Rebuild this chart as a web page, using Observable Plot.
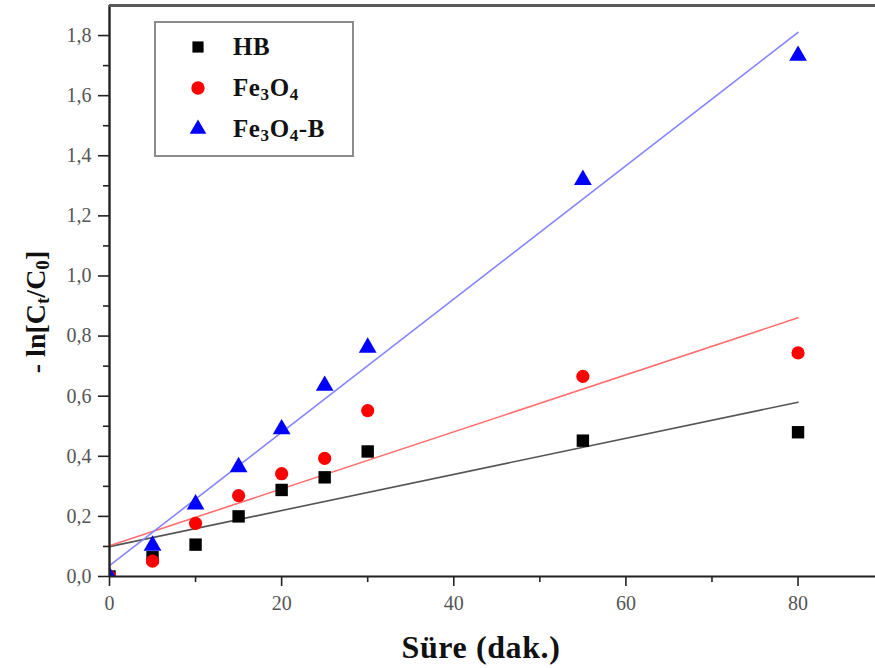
<!DOCTYPE html>
<html>
<head>
<meta charset="utf-8">
<script src="https://cdn.jsdelivr.net/npm/d3@7"></script>
<script src="https://cdn.jsdelivr.net/npm/@observablehq/plot@0.6"></script>
<style>
  body { margin: 0; background: #fff; }
  #wrap { position: relative; width: 875px; height: 668px; overflow: hidden; background: #fff;
          font-family: "Liberation Serif", "Times New Roman", serif; }
  #wrap > svg { position: absolute; left: 0; top: 0; }
  .legend { position: absolute; left: 154px; top: 21px; width: 200px; height: 136px;
            border: 2px solid #8c8c8c; box-sizing: border-box; background: #fff; }
  .legend .row { position: absolute; left: 0; height: 30px; display: flex; align-items: center; }
  .legend .row svg { margin-left: 32px; width: 20px; height: 20px; }
  .legend .row span { margin-left: 25px; font-weight: bold; font-size: 25px; letter-spacing: 0.6px; color: #111; }
  sub { font-size: 0.68em; vertical-align: -0.22em; line-height: 0; }
  .ylab { position: absolute; left: 36px; top: 312px; transform: translate(-50%, -50%) rotate(-90deg);
          white-space: nowrap; font-weight: bold; font-size: 28px; color: #111; }
  .xlab { position: absolute; left: 481px; top: 647px; transform: translate(-50%, -50%);
          white-space: nowrap; font-weight: bold; font-size: 32px; letter-spacing: 0.6px; color: #111; }
</style>
</head>
<body>
<div id="wrap"></div>
<script>
// Reaction time (min) and -ln(Ct/C0) for each sample
const time = [0, 5, 10, 15, 20, 25, 30, 55, 80];
const hb = [0, 0.064, 0.106, 0.20, 0.288, 0.33, 0.416, 0.452, 0.48];
const fe3o4 = [0, 0.051, 0.177, 0.269, 0.342, 0.393, 0.552, 0.666, 0.744];
const fe3o4B = [0, 0.103, 0.24, 0.364, 0.49, 0.635, 0.762, 1.32, 1.733];

const xTicks = [0, 20, 40, 60, 80];
const xMinor = [10, 30, 50, 70];
const yTicks = [0, 0.2, 0.4, 0.6, 0.8, 1.0, 1.2, 1.4, 1.6, 1.8];
const yMinor = [0.1, 0.3, 0.5, 0.7, 0.9, 1.1, 1.3, 1.5, 1.7];

const series = [
  {name: "HB", values: hb, symbol: "square", fill: "#000000", line: "#555555", r: 7},
  {name: "Fe3O4", values: fe3o4, symbol: "circle", fill: "#ff0000", line: "#ff6e6e", r: 6.6},
  {name: "Fe3O4-B", values: fe3o4B, symbol: "triangle", fill: "#0000ff", line: "#8585ff", r: 6.6}
];

const rows = s => time.map((t, i) => ({t, v: s.values[i]}));
const comma = d => d.toFixed(1).replace(".", ",");

const fitMarks = series.map(s =>
  Plot.linearRegressionY(rows(s), {x: "t", y: "v", stroke: s.line, strokeWidth: 1.6, ci: 0})
);
const dotMarks = series.map(s =>
  Plot.dot(rows(s), {x: "t", y: "v", symbol: () => s.symbol, fill: s.fill, stroke: "none", r: s.r, clip: true})
);

const chart = Plot.plot({
  width: 875,
  height: 668,
  marginLeft: 109,
  marginRight: 0,
  marginTop: 5,
  marginBottom: 92,
  x: {domain: [0, 89]},
  y: {domain: [0, 1.9]},
  style: {fontFamily: '"Liberation Serif", "Times New Roman", serif', fontSize: "20px", background: "transparent"},
  marks: [
    ...fitMarks,
    ...dotMarks,
    Plot.axisX({ticks: xMinor, tickSize: 6, tickFormat: () => "", label: null, stroke: "#222", strokeWidth: 1.6}),
    Plot.axisX({ticks: xTicks, tickSize: 10, tickPadding: 9, tickFormat: d => String(d), label: null,
                stroke: "#222", strokeWidth: 1.6, fill: "#555"}),
    Plot.axisY({ticks: yMinor, tickSize: 6, tickFormat: () => "", label: null, stroke: "#222", strokeWidth: 1.6}),
    Plot.axisY({ticks: yTicks, tickSize: 11, tickPadding: 7, tickFormat: comma, label: null,
                stroke: "#222", strokeWidth: 1.6, fill: "#555"}),
    Plot.ruleY([0], {stroke: "#222", strokeWidth: 2.2}),
    Plot.ruleX([0], {stroke: "#222", strokeWidth: 2.4}),
    Plot.ruleY([1.9], {stroke: "#5a5a5a", strokeWidth: 3})
  ]
});

const wrap = document.getElementById("wrap");
wrap.appendChild(chart);

// Legend box
const symbolPath = name => d3.symbol(
  name === "square" ? d3.symbolSquare : name === "circle" ? d3.symbolCircle : d3.symbolTriangle,
  name === "square" ? 125 : name === "circle" ? 140 : 120)();
const labels = {"HB": "HB", "Fe3O4": "Fe<sub>3</sub>O<sub>4</sub>", "Fe3O4-B": "Fe<sub>3</sub>O<sub>4</sub>-B"};
const legend = document.createElement("div");
legend.className = "legend";
series.forEach((s, i) => {
  const row = document.createElement("div");
  row.className = "row";
  row.style.top = (9 + i * 41) + "px";
  row.innerHTML = `<svg viewBox="-10 -10 20 20"><path d="${symbolPath(s.symbol)}" fill="${s.fill}"></path></svg><span>${labels[s.name]}</span>`;
  legend.appendChild(row);
});
wrap.appendChild(legend);

// Axis titles
const ylab = document.createElement("div");
ylab.className = "ylab";
ylab.innerHTML = "- ln[C<sub>t</sub>/C<sub>0</sub>]";
wrap.appendChild(ylab);

const xlab = document.createElement("div");
xlab.className = "xlab";
xlab.textContent = "Süre (dak.)";
wrap.appendChild(xlab);
</script>
</body>
</html>
